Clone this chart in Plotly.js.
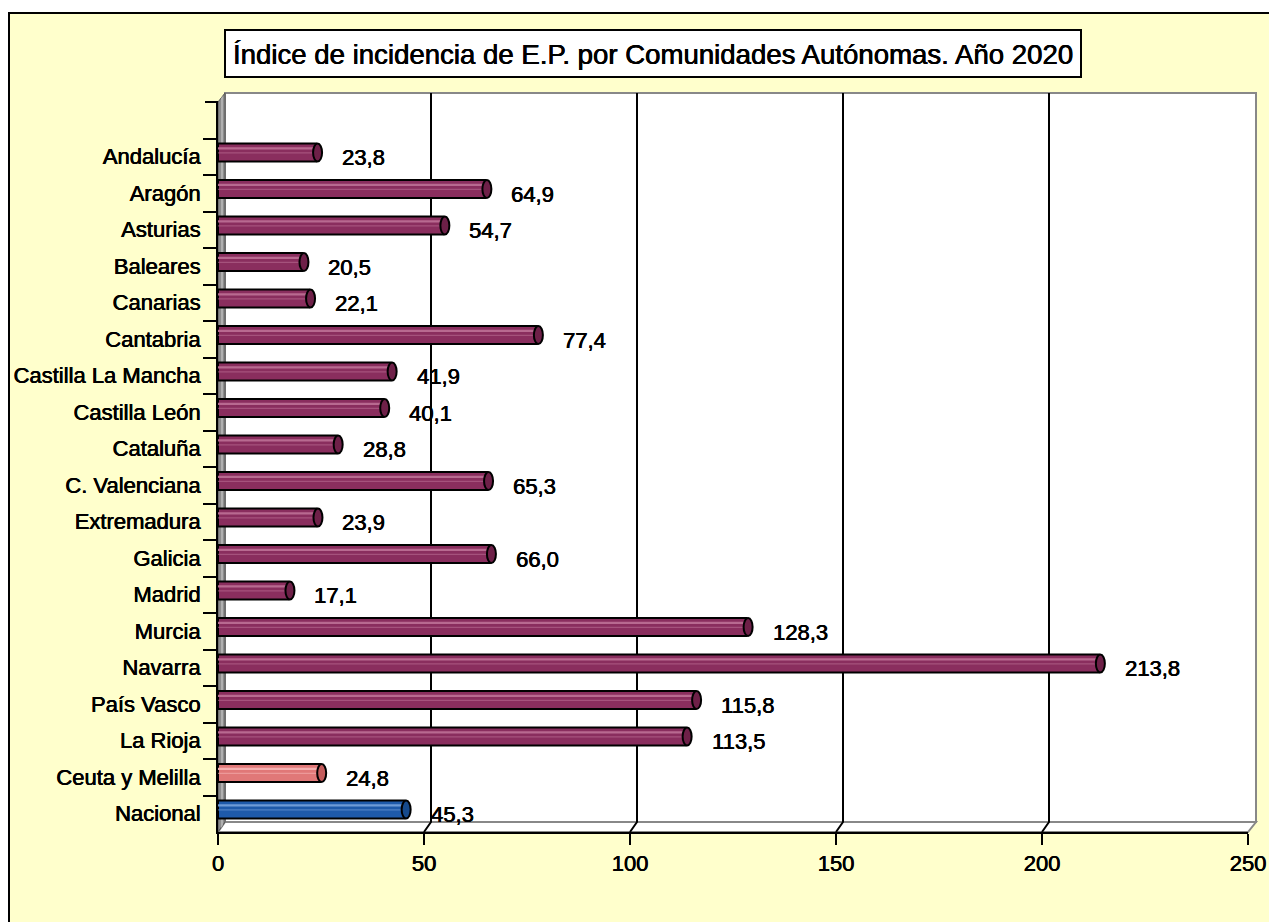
<!DOCTYPE html>
<html>
<head>
<meta charset="utf-8">
<script src="https://cdn.plot.ly/plotly-3.0.1.min.js"></script>
<style>html,body{margin:0;padding:0;background:#fff;}#chart{width:1269px;height:922px;}</style>
</head>
<body>
<div id="chart"></div>
<script>
const categories = ["Andalucía","Aragón","Asturias","Baleares","Canarias","Cantabria","Castilla La Mancha","Castilla León","Cataluña","C. Valenciana","Extremadura","Galicia","Madrid","Murcia","Navarra","País Vasco","La Rioja","Ceuta y Melilla","Nacional"];
const values = [23.8,64.9,54.7,20.5,22.1,77.4,41.9,40.1,28.8,65.3,23.9,66.0,17.1,128.3,213.8,115.8,113.5,24.8,45.3];
const xTicks = [0,50,100,150,200,250];
const titleText = "Índice de incidencia de E.P. por Comunidades Autónomas. Año 2020";

// styling
const FONT = '"Liberation Sans", Arial, sans-serif';
const SHADOW = "0.4px 0 0 #000, -0.2px 0 0 #000";
function colorSet(cat){
  if(cat === "Nacional") return {main:"#1E5AAA", hi:"#6E9BD6", cap:"#164A8C"};
  if(cat === "Ceuta y Melilla") return {main:"#E07878", hi:"#F4B0B0", cap:"#C45C5C"};
  return {main:"#8A2E5E", hi:"#B86A90", cap:"#6E2048"};
}
const mainColors = categories.map(c => colorSet(c).main);
const hiColors = categories.map(c => colorSet(c).hi);
const capColors = categories.map(c => colorSet(c).cap);

const L = 218, R = 1248, T = 102, B = 832, DX = 7, DY = 10;
const PW = R - L, PH = B - T;
const XMAX = 250;
const px = v => (v - L) / PW;
const py = v => (B - v) / PH;
const xpix = v => L + v * PW / XMAX;

const BW = 0.49, OFF = -0.36;

const traces = [
  {type:"bar", orientation:"h", x: values, y: categories, width: BW, offset: OFF,
   marker:{color: mainColors, line:{color:"#000", width:2}}, hoverinfo:"x+y"},
  {type:"bar", orientation:"h", x: values, y: categories, width: 0.06, offset: OFF + 0.1,
   marker:{color: hiColors, line:{width:0}}, hoverinfo:"skip"},
  {type:"bar", orientation:"h", x: values, y: categories, width: 0.03, offset: OFF + 0.24,
   marker:{color: hiColors, line:{width:0}}, opacity:0.6, hoverinfo:"skip"}
];

const shapes = [];
// outer background frame
shapes.push({type:"rect", xref:"paper", yref:"paper", x0:px(9), x1:px(1300), y0:py(13), y1:py(960),
  fillcolor:"#FFFFCC", line:{color:"#000", width:2}, layer:"below"});
// title box
shapes.push({type:"rect", xref:"paper", yref:"paper", x0:px(225), x1:px(1081), y0:py(30), y1:py(77),
  fillcolor:"#FFFFFF", line:{color:"#000", width:2}, layer:"below"});
// back wall
shapes.push({type:"rect", xref:"paper", yref:"paper", x0:px(L+DX), x1:px(R+DX+1), y0:py(B-DY), y1:py(T-DY+1),
  fillcolor:"#FFFFFF", line:{color:"#888", width:2}, layer:"below"});
// floor
shapes.push({type:"path", xref:"paper", yref:"paper",
  path:`M ${px(L)} ${py(B)} L ${px(L+DX)} ${py(B-DY)} L ${px(R+DX+1)} ${py(B-DY)} L ${px(R)} ${py(B)} Z`,
  fillcolor:"#FFFFFF", line:{color:"#888", width:2}, layer:"below"});
// left wall
shapes.push({type:"path", xref:"paper", yref:"paper",
  path:`M ${px(L)} ${py(T)} L ${px(L+DX)} ${py(T-DY+1)} L ${px(L+DX)} ${py(B-DY)} L ${px(L)} ${py(B)} Z`,
  fillcolor:"#8C8C8C", line:{color:"#555", width:1}, layer:"below"});
shapes.push({type:"path", xref:"paper", yref:"paper",
  path:`M ${px(L+3)} ${py(T-4)} L ${px(L+5)} ${py(T-6)} L ${px(L+5)} ${py(B-7)} L ${px(L+3)} ${py(B-4)} Z`,
  fillcolor:"#B0B0B0", line:{width:0}, layer:"below"});
// gridlines at back
xTicks.filter(v => v > 0 && v < XMAX).forEach(v => {
  const fx = xpix(v);
  shapes.push({type:"path", xref:"paper", yref:"paper",
    path:`M ${px(fx)} ${py(B)} L ${px(fx+DX)} ${py(B-DY)} L ${px(fx+DX)} ${py(T-DY+1)}`,
    line:{color:"#000", width:2}, layer:"below"});
});
// top tick of y axis (empty slot)
shapes.push({type:"line", xref:"paper", yref:"paper", x0:px(L-13), x1:px(L), y0:py(T), y1:py(T),
  line:{color:"#000", width:2}});
// bar end caps
values.forEach((v, i) => {
  shapes.push({type:"circle", xref:"x", yref:"y", xsizemode:"pixel", xanchor:v, x0:-3, x1:6,
    y0:i + OFF, y1:i + OFF + BW, fillcolor:capColors[i], line:{color:"#000", width:2}});
});

// value labels
const annotations = values.map((v, i) => ({
  x: v, y: categories[i], xref:"x", yref:"y", xanchor:"left", yanchor:"middle",
  xshift: 24, yshift: -1, showarrow:false,
  text: v.toFixed(1).replace(".", ","), font:{family:FONT, size:22, color:"#000", shadow:SHADOW}
}));

const layout = {
  width:1269, height:922,
  margin:{l:L, r:1269-R, t:T, b:922-B, pad:0},
  paper_bgcolor:"#FFFFFF", plot_bgcolor:"rgba(0,0,0,0)",
  font:{family:FONT, size:22, color:"#000"},
  title:{text:titleText, font:{family:FONT, size:27.6, color:"#000", shadow:SHADOW},
    xref:"paper", x:(653-L)/PW, xanchor:"center", yref:"container", y:1-54/922, yanchor:"middle"},
  barmode:"overlay",
  showlegend:false,
  xaxis:{range:[0, XMAX], tickvals:xTicks, ticktext:xTicks.map(String), showgrid:false, zeroline:false,
    showline:true, linecolor:"#000", linewidth:2, ticks:"outside", ticklen:11, tickwidth:2, tickcolor:"#000",
    tickfont:{family:FONT, size:22, color:"#000", shadow:SHADOW}, fixedrange:true},
  yaxis:{type:"category", categoryorder:"array", categoryarray:categories, range:[categories.length-0.5, -1.5],
    showgrid:false, zeroline:false, showline:true, linecolor:"#000", linewidth:2,
    ticks:"outside", tickson:"boundaries", ticklen:13, tickwidth:2, tickcolor:"#000", ticklabelstandoff:11,
    tickfont:{family:FONT, size:22, color:"#000", shadow:SHADOW}, fixedrange:true},
  shapes: shapes,
  annotations: annotations
};

Plotly.newPlot("chart", traces, layout, {displayModeBar:false, staticPlot:true});
</script>
</body>
</html>
